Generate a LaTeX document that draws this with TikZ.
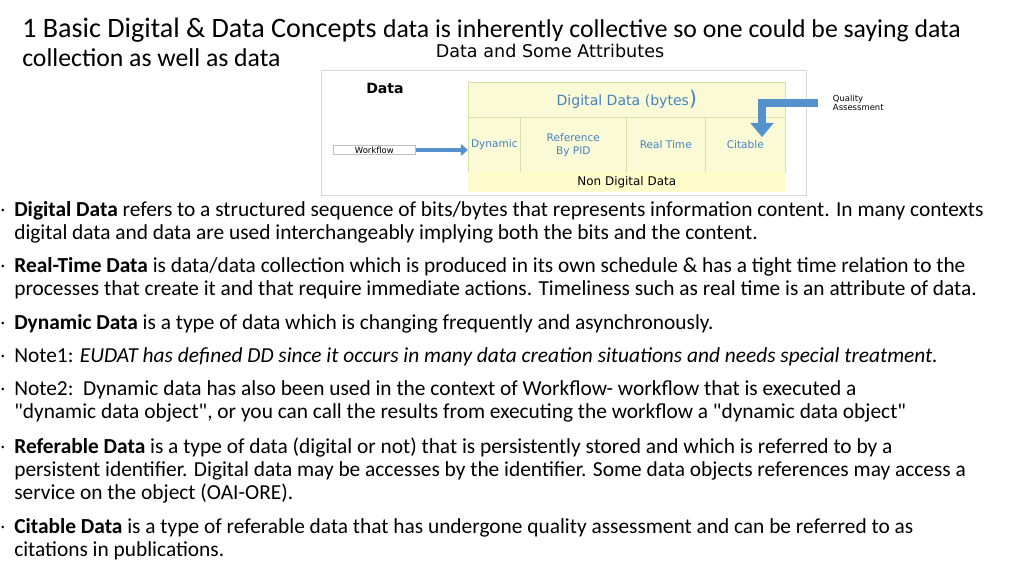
\documentclass[tikz,border=0pt]{standalone}
\usepackage{fontspec}
\setmainfont{Carlito}
\setsansfont{DejaVu Sans}
\newfontfamily\qfont{Carlito}[Ligatures=TeXOff]
\newcommand\sq{{\qfont\char34}}
\usetikzlibrary{positioning,arrows.meta}
\definecolor{paleyel}{RGB}{250,250,215}
\definecolor{lineyel}{RGB}{215,225,165}
\definecolor{arrblue}{RGB}{85,145,205}
\definecolor{txtblue}{RGB}{70,130,190}
\tikzset{
  line/.style={anchor=west,font=\fontsize{15.2}{17}\selectfont,inner sep=0pt},
  cell/.style={draw=lineyel,fill=paleyel,font=\sffamily\fontsize{7.5}{9}\selectfont,text=txtblue,align=center},
  tag/.style={draw=gray!50,fill=white,font=\sffamily\fontsize{6}{6.5}\selectfont,anchor=west,inner sep=1pt}
}
\begin{document}
\begin{tikzpicture}[x=0.025cm,y=-0.025cm]
\useasboundingbox (0,0) rectangle (1024,576);
% heading
\node[anchor=west,inner sep=0pt] (head) at (22,30)
  {\fontsize{20}{22}\selectfont 1 Basic Digital \& Data Concepts\ \fontsize{18.3}{22}\selectfont data is inherently collective so one could be saying data};
\node[line,font=\fontsize{18.3}{22}\selectfont] (head2) at (22,58) {collection as well as data};
\node[font=\sffamily\fontsize{12.5}{13}\selectfont] (dtitle) at (550,51) {Data and Some Attributes};
% diagram
\node[draw=gray!30,fill=white,minimum width=485*0.025cm,minimum height=125*0.025cm,anchor=north west,inner sep=0pt] (frame) at (321,70) {};
\node[font=\sffamily\bfseries\fontsize{10}{11}\selectfont] (data) at (385,88) {Data};
\node[cell,minimum width=317*0.025cm,minimum height=35*0.025cm,anchor=north west,inner sep=0pt,font=\sffamily\fontsize{10}{11}\selectfont] (digital) at (468,82) {Digital Data (bytes{\Large)}};
\node[cell,minimum width=52*0.025cm,minimum height=55*0.025cm,anchor=north west,inner sep=0pt] (dyn) at (468,117) {Dynamic};
\node[cell,minimum width=106*0.025cm,minimum height=55*0.025cm,anchor=north west,inner sep=0pt] (ref) at (520,117) {Reference\\By PID};
\node[cell,minimum width=79*0.025cm,minimum height=55*0.025cm,anchor=north west,inner sep=0pt] (rt) at (626,117) {Real Time};
\node[cell,minimum width=80*0.025cm,minimum height=55*0.025cm,anchor=north west,inner sep=0pt] (cit) at (705,117) {Citable};
\node[cell,draw=none,fill=yellow!20,minimum width=317*0.025cm,minimum height=20*0.025cm,anchor=north west,inner sep=0pt,text=black,font=\sffamily\fontsize{8.5}{9}\selectfont] (nondig) at (468,172) {Non Digital Data};
\node[tag,minimum width=82*0.025cm] (wf) at (333,150) {Workflow};
\node[tag,minimum width=80*0.025cm,align=left,draw=none] (qa) at (818,103) {Quality\\Assessment};
\coordinate (bend) at (762,103);
\draw[arrblue,line width=3pt,-{Triangle[width=8pt,length=5pt]}] (wf.east) -- (wf.east -| dyn.west);
\draw[arrblue,line width=6pt] (qa.west) -- (bend);
\draw[arrblue,line width=6pt,-{Triangle[width=16pt,length=10pt]}] ([yshift=3pt]bend) -- (762,137);
% bullets
\foreach \yy/\txt in {
 211/{\textbf{Digital Data} refers to a structured sequence of bits/bytes that represents information content. In many contexts},
 234/{digital data and data are used interchangeably implying both the bits and the content.},
 267/{\textbf{Real-Time Data} is data/data collection which is produced in its own schedule \& has a tight time relation to the},
 290/{processes that create it and that require immediate actions. Timeliness such as real time is an attribute of data.},
 324/{\textbf{Dynamic Data} is a type of data which is changing frequently and asynchronously.},
 357/{Note1: \textit{EUDAT has defined DD since it occurs in many data creation situations and needs special treatment.}},
 390/{Note2:\ \ Dynamic data has also been used in the context of Workflow- workflow that is executed a},
 413/{\sq dynamic data object\sq, or you can call the results from executing the workflow a \sq dynamic data object\sq},
 448/{\textbf{Referable Data} is a type of data (digital or not) that is persistently stored and which is referred to by a},
 471/{persistent identifier. Digital data may be accesses by the identifier. Some data objects references may access a},
 494/{service on the object (OAI-ORE).},
 528/{\textbf{Citable Data} is a type of referable data that has undergone quality assessment and can be referred to as},
 551/{citations in publications.}}
 \node[line] (l\yy) at (14,\yy) {\txt};
\foreach \yy in {211,267,324,357,390,448,528}
 \node[font=\tiny,inner sep=0pt] (b\yy) at (3,\yy) {•};
\end{tikzpicture}
\end{document}
